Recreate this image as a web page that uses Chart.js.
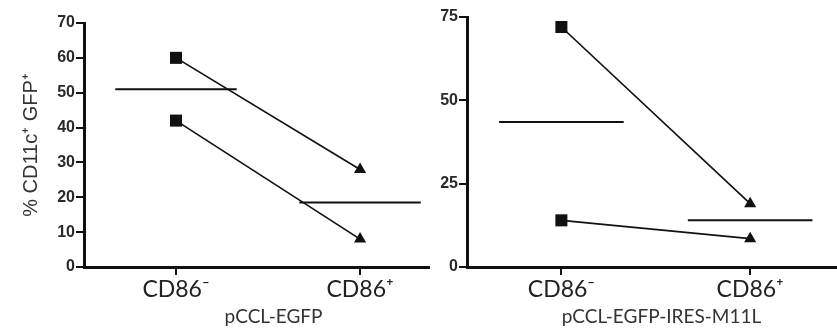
<!DOCTYPE html>
<html>
<head>
<meta charset="utf-8">
<script src="https://cdn.jsdelivr.net/npm/chart.js@4"></script>
<style>
  body { margin: 0; background: #fff; width: 837px; height: 332px; overflow: hidden; position: relative; }
  canvas { position: absolute; top: 0; }
  #leftChart { left: 0; }
  #rightChart { left: 420px; }
</style>
</head>
<body>
<canvas id="leftChart" width="430" height="332"></canvas>
<canvas id="rightChart" width="417" height="332"></canvas>
<script>
const categories = ["CD86\u207B", "CD86\u207A"];
const yTitle = "% CD11c\u207A GFP\u207A";

// left panel
const leftTitle = "pCCL-EGFP";
const leftSamples = [[60, 28], [42, 8]];
const leftMeans = [51, 18.5];
const leftTicks = [0, 10, 20, 30, 40, 50, 60, 70];

// right panel
const rightTitle = "pCCL-EGFP-IRES-M11L";
const rightSamples = [[72, 19], [14, 8.5]];
const rightMeans = [43.5, 14];
const rightTicks = [0, 25, 50, 75];

const INK = "#111";

function buildDatasets(samples, means) {
  const sets = [];
  samples.forEach((pair) => {
    sets.push({
      data: pair.map((v, i) => ({ x: i, y: v })),
      borderColor: INK,
      backgroundColor: INK,
      borderWidth: 1.7,
      pointStyle: ["rect", "triangle"],
      pointRadius: [8.5, 7],
      pointBorderWidth: 0,
    });
  });
  means.forEach((m, i) => {
    sets.push({
      data: [{ x: i - 0.33, y: m }, { x: i + 0.33, y: m }],
      borderColor: INK,
      borderWidth: 2,
      pointRadius: 0,
    });
  });
  return sets;
}

// group label under the axis, centred a bit right of the middle like the original
const groupLabel = {
  id: "groupLabel",
  afterDraw(chart, args, opts) {
    const { ctx, scales } = chart;
    ctx.save();
    ctx.font = "19px Lato";
    ctx.fillStyle = "#333";
    ctx.textAlign = "center";
    ctx.textBaseline = "middle";
    ctx.fillText(opts.text, scales.x.getPixelForValue(0.53), 317);
    ctx.restore();
  },
};

function makeChart(id, opts) {
  const ctx = document.getElementById(id).getContext("2d");
  return new Chart(ctx, {
    type: "line",
    data: { datasets: buildDatasets(opts.samples, opts.means) },
    plugins: [groupLabel],
    options: {
      responsive: false,
      animation: false,
      devicePixelRatio: 1,
      layout: { autoPadding: false, padding: { top: opts.top, right: 0, left: 0, bottom: 0 } },
      plugins: {
        legend: { display: false },
        tooltip: { enabled: false },
        groupLabel: { text: opts.title },
      },
      scales: {
        x: {
          type: "linear",
          min: -0.5,
          max: opts.xMax,
          afterBuildTicks: (s) => { s.ticks = categories.map((c, i) => ({ value: i })); },
          afterFit: (s) => { s.height = 65; },
          ticks: {
            callback: (v) => categories[v],
            color: "#222",
            font: { family: "Lato", size: 23 },
            padding: 1,
            maxRotation: 0,
          },
          grid: { drawOnChartArea: false, drawTicks: true, tickLength: 8, lineWidth: 2, color: INK },
          border: { display: true, width: 3, color: INK },
        },
        y: {
          min: 0,
          max: opts.ticks[opts.ticks.length - 1],
          afterBuildTicks: (s) => { s.ticks = opts.ticks.map((v) => ({ value: v })); },
          afterFit: (s) => { s.width = opts.yWidth; },
          ticks: {
            color: "#2a2a2a",
            font: { family: "Liberation Sans", size: 16, weight: "bold" },
            padding: 1,
          },
          grid: { drawOnChartArea: false, drawTicks: true, tickLength: 8, lineWidth: 2, color: INK },
          border: { display: true, width: 3, color: INK },
          title: {
            display: !!opts.yTitle,
            text: opts.yTitle || "",
            color: "#333",
            font: { family: "Liberation Sans", size: 20 },
            padding: { top: 19, bottom: 0 },
          },
        },
      },
    },
  });
}

makeChart("leftChart", {
  samples: leftSamples, means: leftMeans, ticks: leftTicks,
  title: leftTitle, yTitle: yTitle, yWidth: 84, top: 23, xMax: 1.38,
});
makeChart("rightChart", {
  samples: rightSamples, means: rightMeans, ticks: rightTicks,
  title: rightTitle, yWidth: 47, top: 17, xMax: 1.46,
});
</script>
</body>
</html>
